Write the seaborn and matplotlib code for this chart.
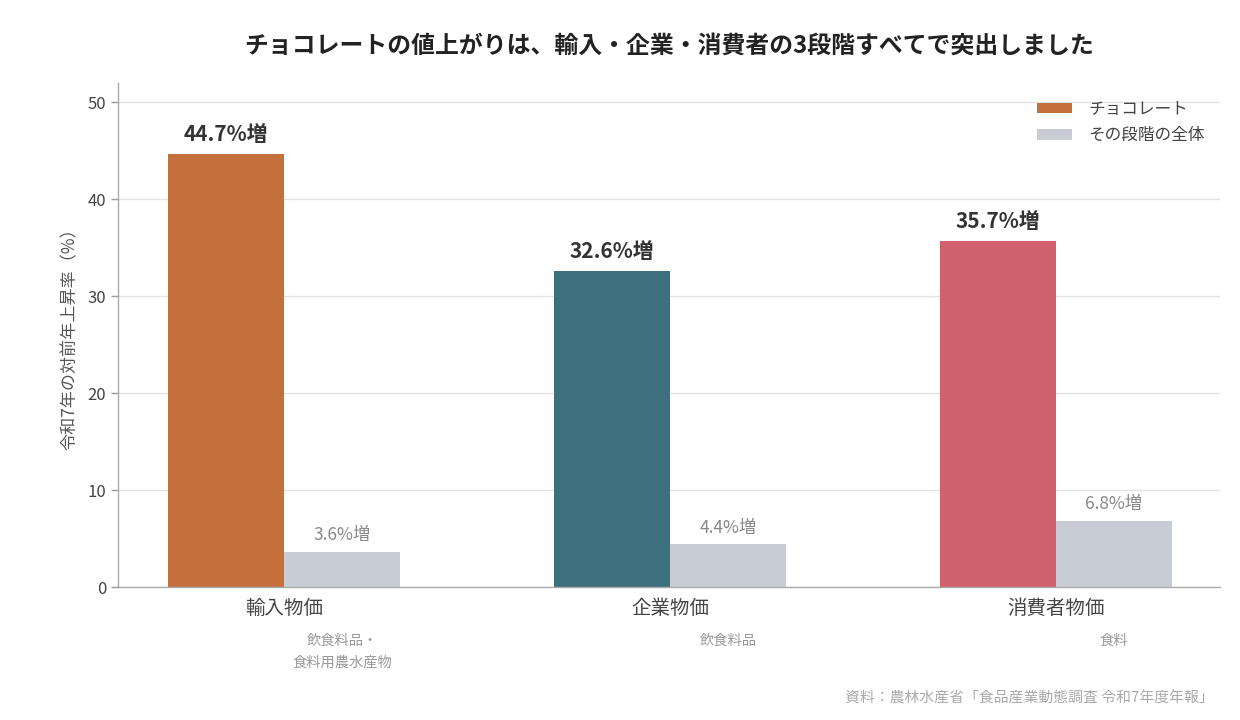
import pandas as pd
import numpy as np
import matplotlib.pyplot as plt
import seaborn as sns

# data
stages = ["輸入物価", "企業物価", "消費者物価"]
stage_notes = ["飲食料品・\n食料用農水産物", "飲食料品", "食料"]
chocolate = [44.7, 32.6, 35.7]
overall = [3.6, 4.4, 6.8]
series_names = ["チョコレート", "その段階の全体"]

choc_colors = ["#C5703C", "#3E6F7C", "#D1616C"]
gray = "#C8CCD4"

df = pd.DataFrame({
    "stage": stages * 2,
    "series": [series_names[0]] * 3 + [series_names[1]] * 3,
    "value": chocolate + overall,
})

sns.set_theme(style="white")
plt.rcParams["font.family"] = ["Noto Sans CJK JP", "DejaVu Sans"]

fig = plt.figure(figsize=(12.4, 7.2), dpi=100)
ax = fig.add_axes([118 / 1240, 1 - 587 / 720, (1220 - 118) / 1240, (587 - 83) / 720])

sns.barplot(data=df, x="stage", y="value", hue="series",
            palette=[choc_colors[0], gray], width=0.6, saturation=1,
            linewidth=0, ax=ax, legend=True)

# each chocolate bar has its own colour
for bar, c in zip(ax.containers[0], choc_colors):
    bar.set_facecolor(c)

# value labels
for bar, v in zip(ax.containers[0], chocolate):
    ax.text(bar.get_x() + bar.get_width() / 2, v + 0.9, f"{v}%増",
            ha="center", va="bottom", fontsize=15, fontweight="bold", color="#333333")
for bar, v in zip(ax.containers[1], overall):
    ax.text(bar.get_x() + bar.get_width() / 2, v + 0.8, f"{v}%増",
            ha="center", va="bottom", fontsize=12.5, color="#888888")

# notes under each stage, centred on the gray bar
for bar, note in zip(ax.containers[1], stage_notes):
    ax.text(bar.get_x() + bar.get_width() / 2, -4.8, note,
            ha="center", va="top", fontsize=10.3, color="#999999", linespacing=1.75)

ax.set_xlim(-0.43, 2.425)
ax.set_ylim(0, 52)
ax.set_yticks([0, 10, 20, 30, 40, 50])
ax.yaxis.grid(True, color="#E3E3E3", linewidth=1)
ax.set_axisbelow(True)
ax.set_xlabel("")
ax.set_ylabel("令和7年の対前年上昇率（%）", fontsize=12.3, color="#555555", labelpad=6)
ax.tick_params(axis="x", labelsize=14, colors="#444444", length=0, pad=8)
ax.tick_params(axis="y", labelsize=12, colors="#444444", left=True, length=5, width=1, color="#999999")
for s in ["top", "right"]:
    ax.spines[s].set_visible(False)
for s in ["left", "bottom"]:
    ax.spines[s].set_color("#AAAAAA")
    ax.spines[s].set_linewidth(1)

leg = ax.legend(loc="upper right", frameon=False, fontsize=12,
                handlelength=2.1, handleheight=0.6, handletextpad=1.0,
                labelspacing=0.55, bbox_to_anchor=(1.0, 0.994))
leg.legend_handles[0].set_facecolor(choc_colors[0])
for t in leg.get_texts():
    t.set_color("#444444")

fig.text(0.5397, 1 - 46 / 720, "チョコレートの値上がりは、輸入・企業・消費者の3段階すべてで突出しました",
         ha="center", va="center", fontsize=17.2, fontweight="bold", color="#222222")
fig.text(1214 / 1240, 1 - 698 / 720, "資料：農林水産省「食品産業動態調査 令和7年度年報」",
         ha="right", va="center", fontsize=10.7, color="#AAAAAA")

fig.savefig("out.png", dpi=100)
